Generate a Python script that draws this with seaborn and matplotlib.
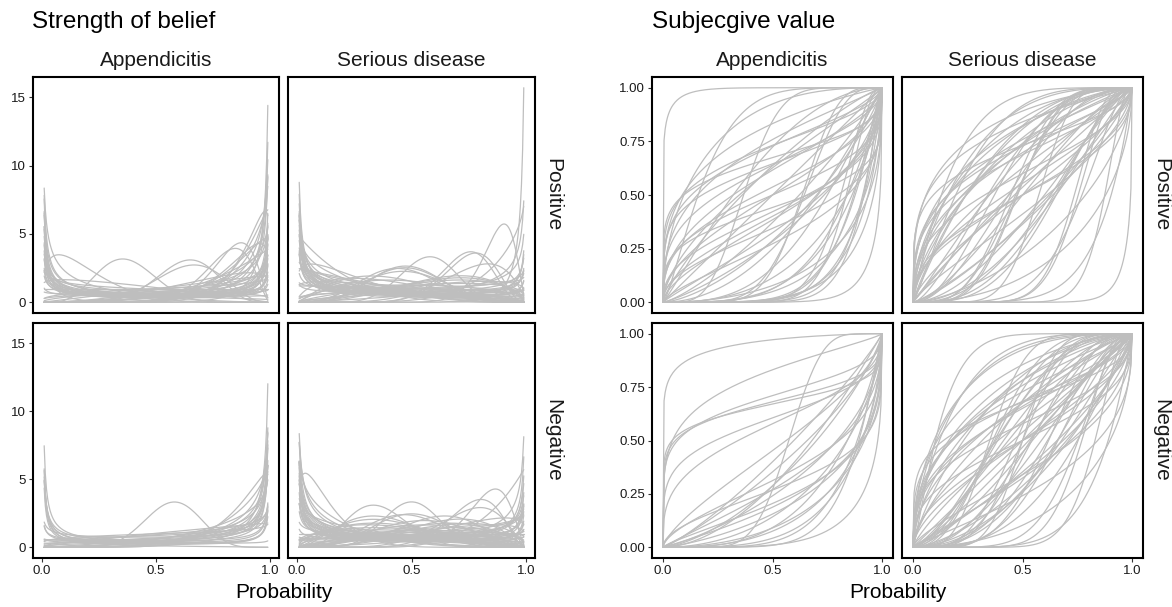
import math
import numpy as np
import pandas as pd
import matplotlib
matplotlib.use("Agg")
import matplotlib.pyplot as plt
import seaborn as sns

sns.set_theme(style="white")
plt.rcParams["font.family"] = ["Liberation Sans", "DejaVu Sans"]

# Facet labels
diseases = ["Appendicitis", "Serious disease"]
results = ["Positive", "Negative"]
group_titles = ["Strength of belief", "Subjecgive value"]

# Beta shape parameters of each participant curve
# Appendicitis / Positive
app_pos_shape1 = [0.1, 0.3, 1.4, 5.6, 9, 7, 11, 12, 8, 4, 3, 6, 8, 4, 7, 3, 2, 1.5, 1.2, 0.5,
                  0.3, 0.4, 0.6, 1, 0.8, 0.2, 0.25, 0.7, 0.35, 1.3, 2.5, 0.9, 0.45, 0.15, 1.1,
                  0.6, 5, 3.5, 2, 0.5, 0.3, 0.2, 0.4, 0.25, 0.5, 6, 10, 0.35]
app_pos_shape2 = [8, 1.1, 6, 9.4, 5.3, 4, 2.8, 2.6, 0.3, 0.4, 0.5, 1.1, 1.05, 1, 1.3, 1.2, 1, 0.8,
                  0.6, 0.5, 0.3, 0.6, 0.4, 1, 1.2, 0.35, 0.2, 0.3, 0.9, 0.9, 0.7, 0.5, 0.25, 0.3,
                  2, 0.9, 0.6, 0.8, 0.35, 2.5, 0.5, 0.5, 0.3, 0.6, 0.35, 0.8, 1.2, 0.4]
# Appendicitis / Negative
app_neg_shape1 = [0.08, 0.2, 0.15, 0.2, 0.12, 0.3, 0.1, 10, 7, 4, 1, 1.2, 2, 1.5, 0.9, 3, 1.1,
                  0.8, 2.5, 1.3, 5, 1.8, 0.6, 0.5, 2, 1.2, 0.7, 3.5]
app_neg_shape2 = [1.5, 0.8, 0.35, 0.3, 0.25, 0.4, 0.2, 7.5, 1.1, 0.3, 0.3, 0.5, 0.6, 0.8, 0.4,
                  0.8, 0.7, 0.25, 0.5, 0.35, 0.9, 1.0, 0.3, 0.2, 0.4, 0.9, 0.6, 0.6]
# Serious disease / Positive
ser_pos_shape1 = [0.3, 1, 0.8, 0.6, 0.5, 0.7, 0.4, 0.9, 1.2, 1, 0.5, 0.6, 1.1, 4.5, 5, 4, 5.5,
                  10, 12, 11, 17, 12, 2, 1.5, 0.5, 0.4, 0.6, 1, 0.3, 0.7, 1.5, 2, 1.8, 2.5, 0.8,
                  1.3, 3, 2, 0.45, 0.9, 3.5, 1.6, 0.35, 1.2, 6, 2.2, 6, 0.3, 0.25, 0.4, 0.2, 0.35]
ser_pos_shape2 = [1.5, 5, 3, 2, 1.5, 1.6, 1.3, 2.2, 4, 2.5, 1.1, 1.3, 1.8, 5.5, 5.5, 4.5, 6,
                  7.5, 4.5, 3.8, 2.7, 0.3, 0.5, 0.6, 0.6, 0.8, 0.9, 1.2, 0.7, 0.7, 1.5, 2.5, 1.3,
                  1.6, 0.6, 0.9, 1.8, 1.2, 0.45, 1.0, 2, 2.8, 0.5, 0.8, 2, 3.5, 0.9, 0.6, 1, 0.4,
                  0.5, 0.9]
# Serious disease / Negative
ser_neg_shape1 = [0.5, 1.3, 5, 9, 5, 4.5, 10, 12, 5, 7, 3, 2, 3, 2, 1.5, 2, 0.5, 0.3, 0.6, 1,
                  0.8, 1.2, 0.7, 1.1, 0.4, 0.9, 1.5, 1.3, 2.5, 0.6, 0.4, 1.8, 0.8, 2.2, 3.5, 1.5,
                  0.35, 0.9, 2.8, 1.7, 0.7, 3, 1, 0.5, 2.5, 4, 0.6, 0.8, 6, 0.35, 0.25, 0.4, 0.5,
                  0.35, 0.2, 0.6, 0.45]
ser_neg_shape2 = [1.5, 9, 9, 9, 5, 5, 3.2, 2.7, 3.2, 2.5, 5, 3, 2, 1.5, 2, 0.45, 0.5, 0.4, 0.6,
                  1, 0.9, 1.1, 1.2, 0.7, 0.7, 0.5, 1.3, 1.6, 2.2, 1.5, 1.0, 0.9, 2, 1.2, 3, 0.8,
                  0.6, 0.35, 1.6, 2.6, 0.4, 1.2, 0.6, 0.9, 4, 2.2, 3, 4, 1, 0.8, 0.5, 1.5, 2.5,
                  0.35, 0.4, 0.8, 1.2]

shapes = {
    ("Appendicitis", "Positive"): (app_pos_shape1, app_pos_shape2),
    ("Appendicitis", "Negative"): (app_neg_shape1, app_neg_shape2),
    ("Serious disease", "Positive"): (ser_pos_shape1, ser_pos_shape2),
    ("Serious disease", "Negative"): (ser_neg_shape1, ser_neg_shape2),
}

# Probability grids
p_density = np.linspace(0.01, 0.99, 197)
p_value = np.linspace(0.0, 1.0, 201)


def beta_pdf(x, a, b):
    lb = math.lgamma(a) + math.lgamma(b) - math.lgamma(a + b)
    return np.exp((a - 1) * np.log(x) + (b - 1) * np.log1p(-x) - lb)


def betacf(a, b, x):
    tiny = 1e-30
    qab, qap, qam = a + b, a + 1.0, a - 1.0
    c = np.ones_like(x)
    d = 1.0 - qab * x / qap
    d = np.where(np.abs(d) < tiny, tiny, d)
    d = 1.0 / d
    h = d.copy()
    for m in range(1, 200):
        m2 = 2 * m
        for aa in (m * (b - m) * x / ((qam + m2) * (a + m2)),
                   -(a + m) * (qab + m) * x / ((a + m2) * (qap + m2))):
            d = 1.0 + aa * d
            d = np.where(np.abs(d) < tiny, tiny, d)
            c = 1.0 + aa / c
            c = np.where(np.abs(c) < tiny, tiny, c)
            d = 1.0 / d
            h = h * d * c
    return h


def beta_cdf(x, a, b):
    xx = np.clip(x, 1e-12, 1 - 1e-12)
    with np.errstate(all="ignore"):
        bt = np.exp(math.lgamma(a + b) - math.lgamma(a) - math.lgamma(b)
                    + a * np.log(xx) + b * np.log1p(-xx))
        lo = bt * betacf(a, b, xx) / a
        hi = 1.0 - bt * betacf(b, a, 1.0 - xx) / b
    out = np.where(xx < (a + 1) / (a + b + 2), lo, hi)
    out[x <= 0] = 0.0
    out[x >= 1] = 1.0
    return out


def cell_frame(s1, s2, kind):
    frames = []
    for k, (a, b) in enumerate(zip(s1, s2)):
        if kind == "density":
            frames.append(pd.DataFrame({"curve": k, "p": p_density,
                                        "value": beta_pdf(p_density, a, b)}))
        else:
            frames.append(pd.DataFrame({"curve": k, "p": p_value,
                                        "value": beta_cdf(p_value, a, b)}))
    return pd.concat(frames, ignore_index=True)


data = {}
for kind in ["density", "value"]:
    for key, (s1, s2) in shapes.items():
        data[(kind,) + key] = cell_frame(s1, s2, kind)

dens_max = max(df["value"].max() for k, df in data.items() if k[0] == "density")

# Figure layout (pixels)
W, H = 1172, 607
fig = plt.figure(figsize=(W / 100, H / 100), dpi=100)
fig.patch.set_facecolor("white")


def box(x0, y0, x1, y1):
    return [x0 / W, 1 - y1 / H, (x1 - x0) / W, (y1 - y0) / H]


groups = [
    dict(kind="density", cols=[(33, 279), (288, 535)], title_x=32, strip_x=553,
         xlim=(0.01 - 0.049, 0.99 + 0.049), ylim=(-0.05 * dens_max, 1.05 * dens_max),
         yticks=[0, 5, 10, 15], ylabels=["0", "5", "10", "15"]),
    dict(kind="value", cols=[(652, 893), (902, 1143)], title_x=652, strip_x=1161,
         xlim=(-0.05, 1.05), ylim=(-0.05, 1.05),
         yticks=[0, 0.25, 0.5, 0.75, 1.0], ylabels=["0.00", "0.25", "0.50", "0.75", "1.00"]),
]
rows = [(77, 313), (323, 558)]
line_col = "#BEBEBE"
text_col = "#1A1A1A"

for g, title in zip(groups, group_titles):
    for i, res in enumerate(results):
        for j, dis in enumerate(diseases):
            x0, x1 = g["cols"][j]
            y0, y1 = rows[i]
            ax = fig.add_axes(box(x0, y0, x1, y1))
            ax.set_facecolor("white")
            sns.lineplot(data=data[(g["kind"], dis, res)], x="p", y="value", units="curve",
                         estimator=None, color=line_col, lw=0.9, ax=ax, legend=False)
            ax.set_xlim(*g["xlim"])
            ax.set_ylim(*g["ylim"])
            ax.set_xlabel("")
            ax.set_ylabel("")
            ax.set_xticks([0, 0.5, 1.0])
            ax.set_xticklabels(["0.0", "0.5", "1.0"])
            ax.set_yticks(g["yticks"])
            ax.set_yticklabels(g["ylabels"])
            for sp in ax.spines.values():
                sp.set_visible(True)
                sp.set_color("black")
                sp.set_linewidth(1.5)
            ax.tick_params(axis="both", length=3, width=0.8, color="#333333",
                           labelsize=9.5, labelcolor=text_col, pad=2)
            ax.tick_params(axis="x", bottom=(i == 1), labelbottom=(i == 1))
            ax.tick_params(axis="y", left=(j == 0), labelleft=(j == 0))
            if i == 0:
                fig.text((x0 + x1) / 2 / W, 1 - 60 / H, dis, ha="center", va="center",
                         fontsize=15, color=text_col)
        fig.text(g["strip_x"] / W, 1 - (rows[i][0] + rows[i][1]) / 2 / H, res,
                 rotation=-90, ha="center", va="center", fontsize=15, color=text_col)
    fig.text(g["title_x"] / W, 1 - 22 / H, title, ha="left", va="center",
             fontsize=17.5, color="black")
    cx = (g["cols"][0][0] + g["cols"][1][1]) / 2
    fig.text(cx / W, 1 - 593 / H, "Probability", ha="center", va="center",
             fontsize=15, color="black")

fig.savefig("out.png", dpi=100, facecolor="white")
